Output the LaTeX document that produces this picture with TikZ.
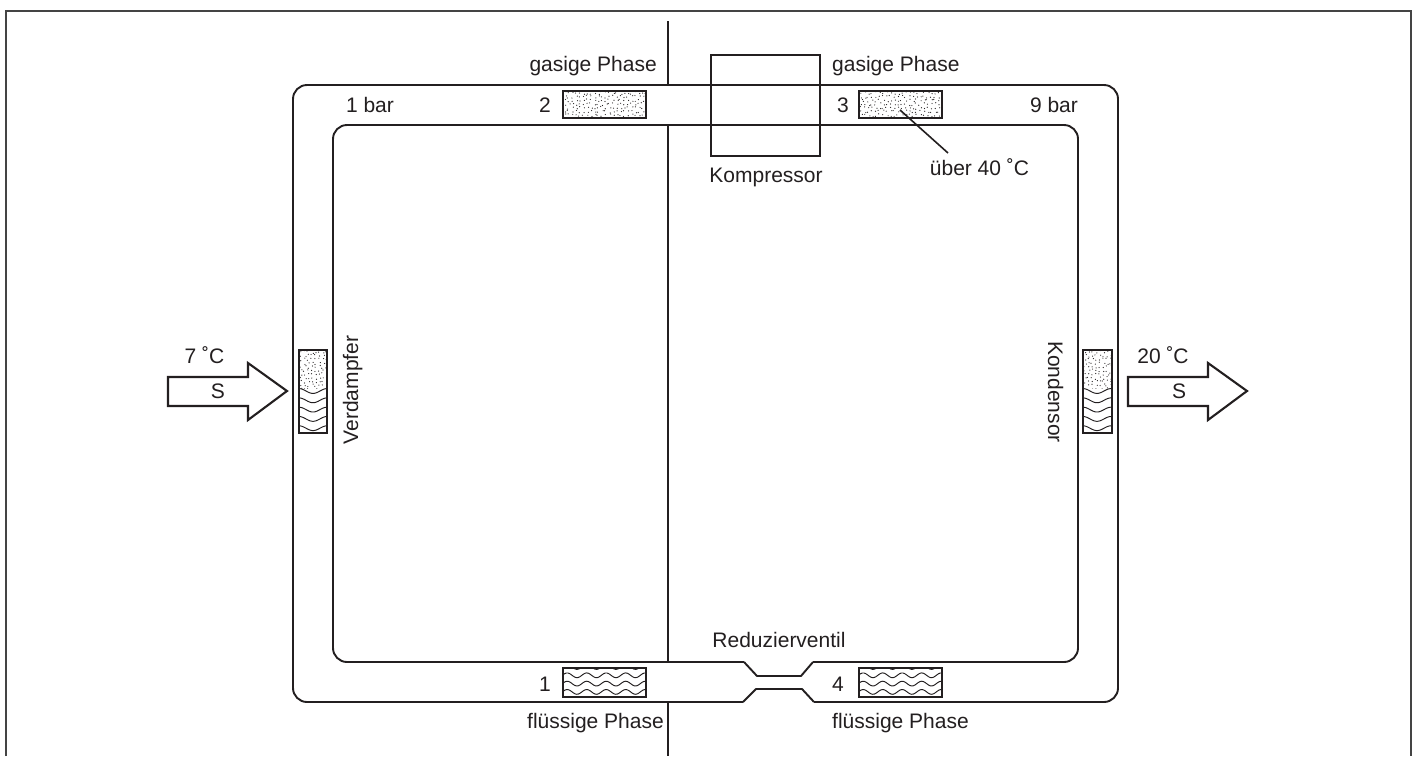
\documentclass[tikz,border=0pt]{standalone}
\usepackage{fontspec}
\setmainfont{Liberation Sans}
\definecolor{ink}{HTML}{231F20}
\definecolor{framec}{HTML}{444444}
\pgfmathsetseed{4711}
% dots inside a region (x0,y0)-(x1,y1)
\newcommand{\dotsregion}[4]{%
  \begin{scope}
    \clip (#1,#2) rectangle (#3,#4);
    \pgfmathtruncatemacro\nx{(#3-#1)/3.7}
    \pgfmathtruncatemacro\ny{(#4-#2)/3.7}
    \foreach \i in {0,...,\nx}{
      \foreach \j in {0,...,\ny}{
        \pgfmathsetmacro\px{#1+0.5+\i*3.7+rnd*3.0}
        \pgfmathsetmacro\py{#2+0.5+\j*3.7+rnd*3.0}
        \fill[ink] (\px,\py) circle (0.6);
      }
    }
  \end{scope}}
% wave rows inside a region: x0,y0,x1,y1,first row,second row,last row,period,phase
\newcommand{\wavesregion}[9]{%
  \begin{scope}
    \clip (#1,#2) rectangle (#3,#4);
    \foreach \r in {#5,#6,...,#7}{
      \draw[wavel] plot[domain=#1:#3,samples=50,smooth] (\x,{\r+2.4*sin((\x-#1)/#8*360+#9)});
    }
  \end{scope}}
\tikzset{
  pipe/.style={ink,line width=1.9pt,line join=round},
  boxl/.style={ink,line width=2.1pt},
  wavel/.style={ink,line width=0.95pt},
  lbl/.style={text=ink,inner sep=0pt,font=\fontsize{21}{24}\selectfont},
  framel/.style={framec,line width=1.6pt},
}
\begin{document}
\begin{tikzpicture}[x=1pt,y=-1pt]
\useasboundingbox (0,0) rectangle (1417,756);
\fill[white] (0,0) rectangle (1417,756);
% frame
\draw[framel] (6,756) -- (6,11) -- (1411,11) -- (1411,756);
% pipe outlines
\draw[pipe,rounded corners=14] (744,662) -- (333,662) -- (333,125) -- (1078,125) -- (1078,662) -- (813,662);
\draw[pipe] (813,662) -- (801,676) -- (757,676) -- (744,662);
\draw[pipe] (743,702) -- (756,689) -- (802,689) -- (814,702);
\draw[pipe] (814,702) -- (1104,702) arc[start angle=90,end angle=0,radius=14] -- (1118,99) arc[start angle=0,end angle=-90,radius=14] -- (307,85) arc[start angle=270,end angle=180,radius=14] -- (293,688) arc[start angle=180,end angle=90,radius=14] -- (743,702);
% centre line
\coordinate (ctop) at (668,21);
\coordinate (cpipeA) at (668,85);
\coordinate (cpipeB) at (668,125);
\coordinate (cpipeC) at (668,662);
\coordinate (cpipeD) at (668,702);
\coordinate (cbot) at (668,756);
\draw[pipe] (ctop) -- (cpipeA) (cpipeB) -- (cpipeC) (cpipeD) -- (cbot);
% compressor
\node[draw=ink,line width=2.1pt,minimum width=109pt,minimum height=101pt,inner sep=0pt,anchor=north west] (komp) at (710,54) {};
% top boxes
\dotsregion{563}{91}{646}{118}
\draw[boxl] (563,91) rectangle (646,118);
\dotsregion{859}{91}{942}{118}
\draw[boxl] (859,91) rectangle (942,118);
% bottom boxes
\wavesregion{563}{668}{646}{697}{667}{675.3}{700}{19.5}{-168}
\draw[boxl] (563,668) rectangle (646,697);
\wavesregion{859}{668}{942}{697}{667}{675.3}{700}{19.5}{-168}
\draw[boxl] (859,668) rectangle (942,697);
% side boxes
\dotsregion{299}{350}{327}{391}
\fill[white] (299,389) rectangle (327,433);
\wavesregion{299}{388}{327}{433}{391}{400.3}{434}{28}{-90}
\draw[boxl] (299,350) rectangle (327,433);
\dotsregion{1083}{350}{1112}{391}
\fill[white] (1083,389) rectangle (1112,433);
\wavesregion{1083}{388}{1112}{433}{391}{400.3}{434}{28}{-90}
\draw[boxl] (1083,350) rectangle (1112,433);
% arrows
\draw[boxl,miter limit=10] (168,377) -- (248,377) -- (248,363) -- (287,391) -- (248,420) -- (248,406) -- (168,406) -- cycle;
\draw[boxl,miter limit=10] (1128,377) -- (1208,377) -- (1208,363) -- (1247,391) -- (1208,420) -- (1208,406) -- (1128,406) -- cycle;
% labels
\node[lbl,anchor=base east] (g2) at (657,71) {gasige Phase};
\node[lbl,anchor=base west] (g3) at (832,71) {gasige Phase};
\node[lbl,anchor=base] (bar1) at (370,112) {1 bar};
\node[lbl,anchor=base] (n2) at (545,112) {2};
\node[lbl,anchor=base] (n3) at (843,112) {3};
\node[lbl,anchor=base] (bar9) at (1054,112) {9 bar};
\node[lbl,anchor=base] (kompl) at (766,182) {Kompressor};
\node[lbl,anchor=base] (temp) at (979.5,175) {über 40 ˚C};
\coordinate (lead) at (900,110);
\coordinate (leadend) at (948,153);
\draw[ink,line width=1.6pt] (lead) -- (leadend);
\node[lbl,rotate=90,anchor=base] (verd) at (358,390) {Verdampfer};
\node[lbl,rotate=-90,anchor=base] (kond) at (1048,392) {Kondensor};
\node[lbl,anchor=base] (t7) at (204.5,363) {7 ˚C};
\node[lbl,anchor=base] (t20) at (1163,363) {20 ˚C};
\node[lbl,anchor=base] (s1) at (218,398) {S};
\node[lbl,anchor=base] (s2) at (1179,398) {S};
\node[lbl,anchor=base] (red) at (779,647) {Reduzierventil};
\node[lbl,anchor=base] (n1) at (545,691) {1};
\node[lbl,anchor=base] (n4) at (838,691) {4};
\node[lbl,anchor=base east] (f1) at (664,728) {flüssige Phase};
\node[lbl,anchor=base west] (f4) at (832,728) {flüssige Phase};
\end{tikzpicture}
\end{document}
